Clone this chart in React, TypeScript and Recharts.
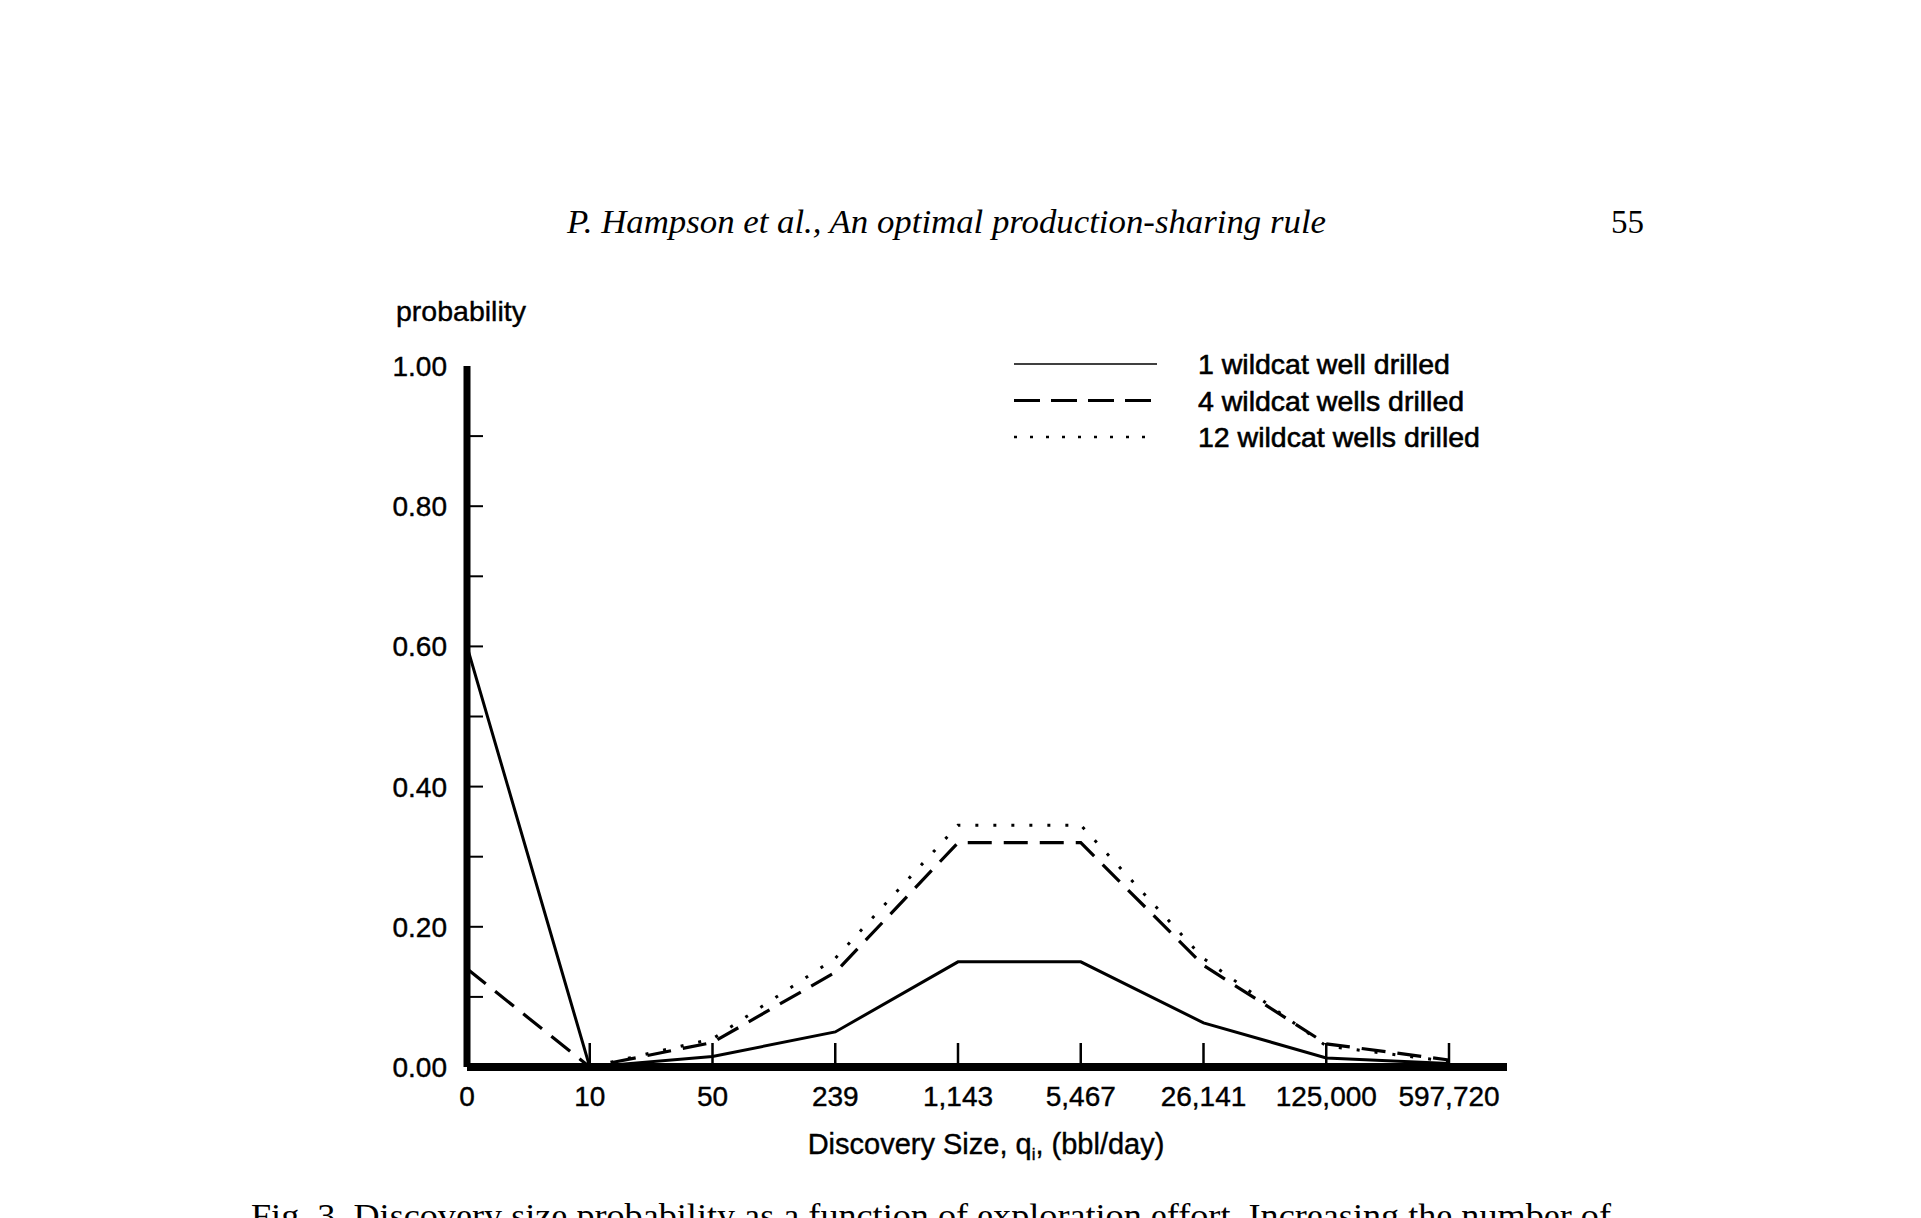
import { Legend, Line, LineChart, XAxis, YAxis } from "recharts";

// discovery size classes (bbl/day) and probabilities
const sizes = ["0", "10", "50", "239", "1,143", "5,467", "26,141", "125,000", "597,720"];
const oneWell = [0.6, 0, 0.015, 0.05, 0.15, 0.15, 0.063, 0.013, 0.005];
const fourWells = [0.14, 0, 0.035, 0.135, 0.32, 0.32, 0.145, 0.033, 0.01];
const twelveWells = [0, 0, 0.04, 0.155, 0.345, 0.345, 0.155, 0.03, 0.008];
const yTicks = [0, 0.1, 0.2, 0.3, 0.4, 0.5, 0.6, 0.7, 0.8, 0.9, 1.0];
const seriesNames = ["1 wildcat well drilled", "4 wildcat wells drilled", "12 wildcat wells drilled"];

const data = sizes.map((size, i) => ({
  size,
  one: oneWell[i],
  four: fourWells[i],
  twelve: twelveWells[i],
}));

const SANS = "'Liberation Sans', Arial, Helvetica, sans-serif";
const SERIF = "'Liberation Serif', 'Times New Roman', serif";

const lineStyles = [
  { key: "one", width: 3, dash: undefined, legendWidth: 1.5, legendDash: undefined },
  { key: "four", width: 3.2, dash: "24 12", legendWidth: 3, legendDash: "26 11" },
  { key: "twelve", width: 3, dash: "3 15", legendWidth: 2.5, legendDash: "3 13" },
];

function YTick({ x, y, payload }: any) {
  const v = Number(payload.value);
  const major = Math.round(v * 10) % 2 === 0;
  // top of the axis has no tick mark, only the label
  const showLine = v < 1;
  return (
    <g>
      {showLine && <line x1={x} x2={x + 16} y1={y} y2={y} stroke="#000" strokeWidth={2} />}
      {major && (
        <text
          x={x - 20}
          y={y + 10}
          textAnchor="end"
          fontFamily={SANS}
          fontSize={28}
          fill="#000"
          stroke="#000"
          strokeWidth={0.4}
        >
          {v.toFixed(2)}
        </text>
      )}
    </g>
  );
}

function XTick({ x, y, payload }: any) {
  return (
    <g>
      <line x1={x} x2={x} y1={y} y2={y - 24} stroke="#000" strokeWidth={2.5} />
      <text
        x={x}
        y={y + 39}
        textAnchor="middle"
        fontFamily={SANS}
        fontSize={28}
        fill="#000"
        stroke="#000"
        strokeWidth={0.4}
      >
        {payload.value}
      </text>
    </g>
  );
}

function LegendBox() {
  return (
    <svg width={540} height={120}>
      {seriesNames.map((name, i) => {
        const s = lineStyles[i];
        const cy = 24 + i * 36.5;
        return (
          <g key={name}>
            <line
              x1={14}
              x2={157}
              y1={cy}
              y2={cy}
              stroke="#000"
              strokeWidth={s.legendWidth}
              strokeDasharray={s.legendDash}
            />
            <text
              x={198}
              y={cy + 10}
              fontFamily={SANS}
              fontSize={28.5}
              fill="#000"
              stroke="#000"
              strokeWidth={0.6}
            >
              {name}
            </text>
          </g>
        );
      })}
    </svg>
  );
}

export default function App() {
  return (
    <div
      style={{
        position: "fixed",
        left: 0,
        top: 0,
        width: 1921,
        height: 1218,
        overflow: "hidden",
        background: "#fff",
      }}
    >
      <svg
        width={1921}
        height={1218}
        style={{ position: "absolute", left: 0, top: 0 }}
      >
        <text
          x={567}
          y={233}
          fontFamily={SERIF}
          fontStyle="italic"
          fontSize={33}
          textLength={759}
          lengthAdjust="spacingAndGlyphs"
          fill="#000"
        >
          P. Hampson et al., An optimal production-sharing rule
        </text>
        <text x={1611} y={233} fontFamily={SERIF} fontSize={33} fill="#000">
          55
        </text>
        <text
          x={396}
          y={321}
          fontFamily={SANS}
          fontSize={28.5}
          fill="#000"
          stroke="#000"
          strokeWidth={0.4}
        >
          probability
        </text>
        <text
          x={986}
          y={1154}
          textAnchor="middle"
          fontFamily={SANS}
          fontSize={29}
          fill="#000"
          stroke="#000"
          strokeWidth={0.4}
        >
          Discovery Size, q
          <tspan fontSize={17} dy={6}>
            i
          </tspan>
          <tspan dy={-6}>, (bbl/day)</tspan>
        </text>
        <text
          x={251}
          y={1227}
          fontFamily={SERIF}
          fontSize={33}
          textLength={1360}
          lengthAdjust="spacingAndGlyphs"
          fill="#000"
        >
          Fig. 3. Discovery size probability as a function of exploration effort. Increasing the number of
        </text>
      </svg>
      <div style={{ position: "absolute", left: 0, top: 0 }}>
        <LineChart
          width={1921}
          height={1218}
          data={data}
          margin={{ top: 366, left: 387, right: 414, bottom: 91 }}
        >
          <XAxis
            dataKey="size"
            interval={0}
            tickSize={0}
            tickMargin={0}
            tick={<XTick />}
            axisLine={{ stroke: "#000", strokeWidth: 8 }}
            padding={{ left: 0, right: 58 }}
            height={60}
          />
          <YAxis
            type="number"
            domain={[0, 1]}
            ticks={yTicks}
            interval={0}
            tickSize={0}
            tickMargin={0}
            tick={<YTick />}
            axisLine={{ stroke: "#000", strokeWidth: 7 }}
            width={80}
          />
          <Legend
            layout="vertical"
            align="center"
            verticalAlign="middle"
            wrapperStyle={{ left: 1000, top: 340, width: 540, height: 120 }}
            content={() => <LegendBox />}
          />
          {lineStyles.map((s, i) => (
            <Line
              key={s.key}
              type="linear"
              dataKey={s.key}
              name={seriesNames[i]}
              stroke="#000"
              strokeWidth={s.width}
              strokeDasharray={s.dash}
              dot={false}
              activeDot={false}
              isAnimationActive={false}
            />
          ))}
        </LineChart>
      </div>
    </div>
  );
}
